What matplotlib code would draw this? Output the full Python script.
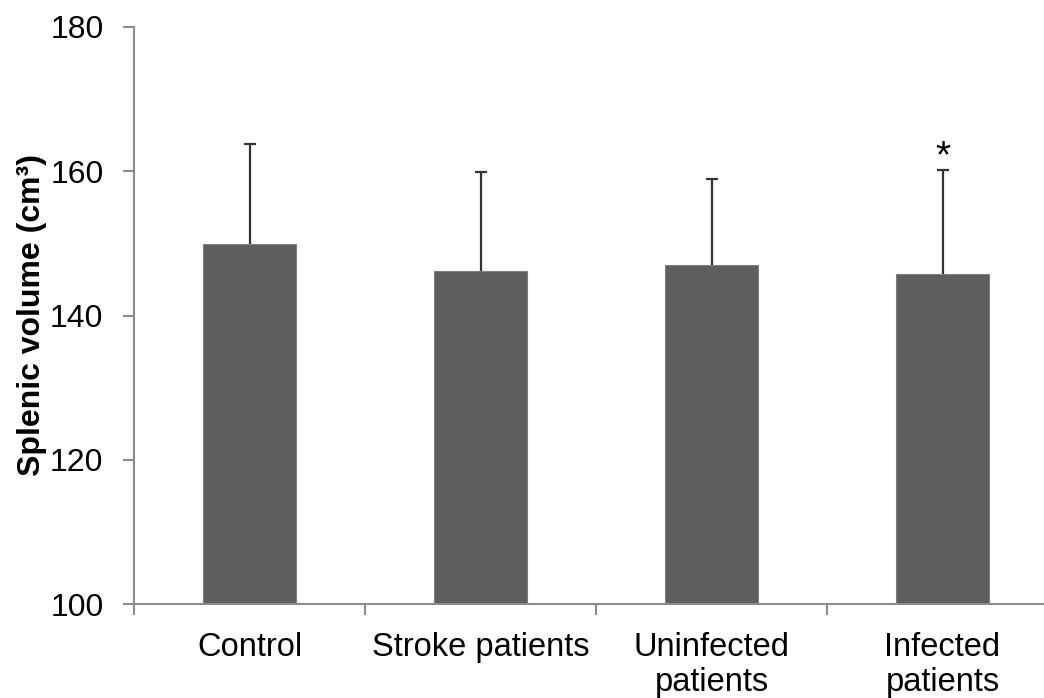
import matplotlib
matplotlib.use("Agg")
import matplotlib.pyplot as plt
import numpy as np

categories = ["Control", "Stroke patients", "Uninfected\npatients", "Infected\npatients"]
means = [149.9, 146.2, 147.0, 145.8]
errors = [13.9, 13.7, 11.9, 14.4]
y_ticks = [100, 120, 140, 160, 180]
significance = ["", "", "", "*"]

plt.rcParams['font.family'] = ['Liberation Sans', 'DejaVu Sans']

fig = plt.figure(figsize=(10.44, 6.98), dpi=100)
ax = fig.add_axes([134/1044, 1-604/698, (1058-134)/1044, (604-27)/698])

x = np.arange(len(categories))
means_a = np.array(means)
tops = means_a + np.array(errors)
ax.bar(x, means, width=0.4, color='#5f5f5f', edgecolor='#808080', linewidth=0.8, zorder=2)
ax.vlines(x, means_a, tops, color='#333333', linewidth=1.6, zorder=3)
ax.plot(x, tops, linestyle='none', marker='_', markersize=8.6, markeredgewidth=1.6,
        color='#333333', zorder=3)

for xi, t, s in zip(x, tops, significance):
    if s:
        ax.text(xi, t - 0.7, s, ha='center', va='bottom', fontsize=28, color='black')

ax.set_xlim(-0.5, len(categories) - 0.5)
ax.set_ylim(100, 180)
ax.set_yticks(y_ticks)
ax.set_yticklabels([str(t) for t in y_ticks], fontsize=23)

ax.set_xticks(np.arange(len(categories) + 1) - 0.5)
ax.set_xticklabels([])
ax.set_xticks(x, minor=True)
ax.set_xticklabels(categories, minor=True, fontsize=23.5, linespacing=1.18)
ax.tick_params(axis='x', which='minor', length=0, pad=20)
ax.tick_params(axis='x', which='major', length=8, width=1.5, color='#8c8c8c', direction='out')
ax.tick_params(axis='y', length=8, width=1.5, color='#8c8c8c', pad=14)

for side in ['top', 'right']:
    ax.spines[side].set_visible(False)
for side in ['left', 'bottom']:
    ax.spines[side].set_color('#8c8c8c')
    ax.spines[side].set_linewidth(1.5)

ax.set_ylabel("Splenic volume (cm³)", fontsize=23, fontweight='bold')
ax.yaxis.set_label_coords(-0.094, 0.5)

fig.savefig("out.png", dpi=100)
